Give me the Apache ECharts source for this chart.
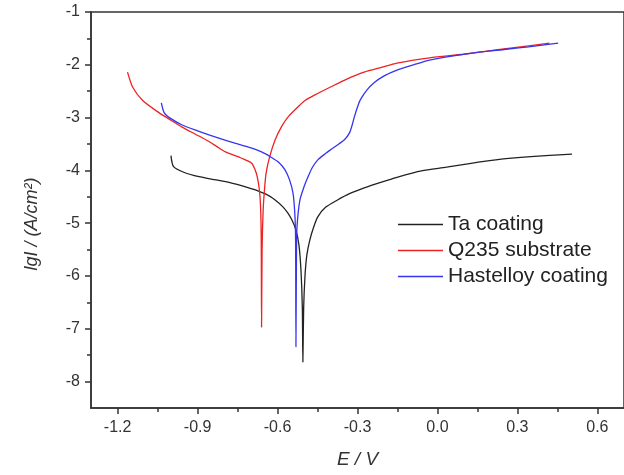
<!DOCTYPE html>
<html>
<head>
<meta charset="utf-8">
<script src="https://cdn.jsdelivr.net/npm/echarts@6/dist/echarts.min.js"></script>
<style>
  html, body { margin: 0; padding: 0; background: #fff; }
  #chart { width: 624px; height: 475px; }
</style>
</head>
<body>
<div id="chart"></div>
<script>
// tick positions
var xTicks = [-1.2, -0.9, -0.6, -0.3, 0.0, 0.3, 0.6];
var xMinor = [-1.05, -0.75, -0.45, -0.15, 0.15, 0.45];
var yTicks = [-8, -7, -6, -5, -4, -3, -2, -1];
var yMinor = [-7.5, -6.5, -5.5, -4.5, -3.5, -2.5, -1.5];

var names = ['Ta coating', 'Q235 substrate', 'Hastelloy coating'];

// [E (V), lgI]
var taCoating = [
  [-1.0, -3.72], [-0.99, -3.93], [-0.95, -4.04], [-0.895, -4.12], [-0.83, -4.18],
  [-0.772, -4.24], [-0.72, -4.31], [-0.683, -4.37], [-0.64, -4.46], [-0.609, -4.56],
  [-0.58, -4.69], [-0.561, -4.81], [-0.545, -4.95], [-0.531, -5.13], [-0.52, -5.4],
  [-0.512, -5.9], [-0.507, -6.6], [-0.505, -7.63], [-0.502, -6.6], [-0.497, -6.0],
  [-0.49, -5.6], [-0.479, -5.32], [-0.465, -5.08], [-0.449, -4.88], [-0.42, -4.7],
  [-0.375, -4.56], [-0.33, -4.44], [-0.275, -4.33], [-0.21, -4.22], [-0.152, -4.13],
  [-0.06, -4.01], [0.034, -3.94], [0.12, -3.87], [0.219, -3.80], [0.35, -3.74], [0.505, -3.69]
];
var q235 = [
  [-1.163, -2.14], [-1.144, -2.42], [-1.107, -2.67], [-1.044, -2.91], [-1.0, -3.05],
  [-0.958, -3.18], [-0.91, -3.31], [-0.869, -3.42], [-0.83, -3.54], [-0.795, -3.65],
  [-0.735, -3.77], [-0.698, -3.86], [-0.68, -4.05], [-0.67, -4.3], [-0.665, -4.56],
  [-0.662, -5.0], [-0.661, -5.5], [-0.66, -6.97], [-0.658, -5.5], [-0.654, -4.75],
  [-0.648, -4.3], [-0.643, -4.05], [-0.63, -3.75], [-0.609, -3.42], [-0.585, -3.17],
  [-0.561, -2.99], [-0.524, -2.8], [-0.498, -2.68], [-0.46, -2.57], [-0.401, -2.42],
  [-0.34, -2.27], [-0.275, -2.14], [-0.21, -2.05], [-0.152, -1.97], [-0.03, -1.87],
  [0.097, -1.80], [0.219, -1.72], [0.342, -1.64], [0.42, -1.59]
];
var hastelloy = [
  [-1.036, -2.72], [-1.025, -2.91], [-1.0, -3.02], [-0.958, -3.14], [-0.9, -3.25],
  [-0.832, -3.37], [-0.77, -3.47], [-0.709, -3.56], [-0.66, -3.65], [-0.624, -3.75],
  [-0.595, -3.85], [-0.572, -3.99], [-0.555, -4.18], [-0.542, -4.43], [-0.536, -4.75],
  [-0.533, -5.1], [-0.532, -5.6], [-0.531, -7.34], [-0.529, -5.6], [-0.527, -5.07],
  [-0.516, -4.56], [-0.5, -4.3], [-0.486, -4.125], [-0.47, -3.95], [-0.449, -3.80],
  [-0.42, -3.68], [-0.401, -3.61], [-0.37, -3.5], [-0.349, -3.42], [-0.33, -3.29],
  [-0.32, -3.14], [-0.312, -2.99], [-0.3, -2.8], [-0.29, -2.67], [-0.265, -2.48],
  [-0.238, -2.34], [-0.2, -2.21], [-0.152, -2.10], [-0.09, -2.0], [-0.03, -1.91],
  [0.06, -1.83], [0.156, -1.76], [0.25, -1.71], [0.342, -1.66], [0.453, -1.59]
];

var myChart = echarts.init(document.getElementById('chart'));
var font = '"Liberation Sans", Arial, sans-serif';

function line(name, data, color) {
  return {
    name: name,
    type: 'line',
    data: data,
    symbol: 'none',
    smooth: 0.25,
    lineStyle: { color: color, width: 1.3 },
    itemStyle: { color: color },
    animation: false
  };
}

var option = {
  backgroundColor: '#fff',
  grid: {
    left: 91, top: 12, width: 538, height: 396,
    show: true, borderColor: '#333', borderWidth: 1.5
  },
  legend: {
    data: names,
    orient: 'vertical',
    left: 393,
    top: 209,
    icon: 'rect',
    itemWidth: 45,
    itemHeight: 1.5,
    itemGap: 5,
    textStyle: { fontFamily: font, fontSize: 21, color: '#222' }
  },
  xAxis: [
    {
      type: 'value', min: -1.3, max: 0.7,
      name: 'E / V', nameLocation: 'middle', nameGap: 42,
      nameTextStyle: { fontFamily: font, fontSize: 19, fontStyle: 'italic', color: '#333' },
      axisLine: { lineStyle: { color: '#333', width: 1.5 } },
      axisTick: { customValues: xTicks, length: 6, lineStyle: { color: '#333', width: 1.5 } },
      axisLabel: {
        customValues: xTicks, margin: 12, fontFamily: font, fontSize: 16, color: '#333',
        formatter: function (v) { return v.toFixed(1); }
      },
      splitLine: { show: false }
    },
    {
      type: 'value', min: -1.3, max: 0.7, position: 'bottom',
      axisLine: { show: false, onZero: false },
      axisTick: { customValues: xMinor, length: 4, lineStyle: { color: '#333', width: 1.5 } },
      axisLabel: { show: false },
      splitLine: { show: false }
    }
  ],
  yAxis: [
    {
      type: 'value', min: -8.5, max: -1,
      name: 'lgI / (A/cm²)', nameLocation: 'middle', nameGap: 50,
      nameTextStyle: { fontFamily: font, fontSize: 18, fontStyle: 'italic', color: '#333', padding: [0, 28, 0, 0] },
      axisLine: { onZero: false, lineStyle: { color: '#333', width: 1.5 } },
      axisTick: { customValues: yTicks, length: 6, lineStyle: { color: '#333', width: 1.5 } },
      axisLabel: {
        customValues: yTicks, margin: 11, fontFamily: font, fontSize: 16, color: '#333'
      },
      splitLine: { show: false }
    },
    {
      type: 'value', min: -8.5, max: -1, position: 'left',
      axisLine: { show: false, onZero: false },
      axisTick: { customValues: yMinor, length: 4, lineStyle: { color: '#333', width: 1.5 } },
      axisLabel: { show: false },
      splitLine: { show: false }
    }
  ],
  series: [
    line(names[0], taCoating, '#222222'),
    line(names[1], q235, '#ee2222'),
    line(names[2], hastelloy, '#3535ee')
  ]
};

myChart.setOption(option);
window.addEventListener('resize', function () {
  myChart.resize();
});
</script>
</body>
</html>
